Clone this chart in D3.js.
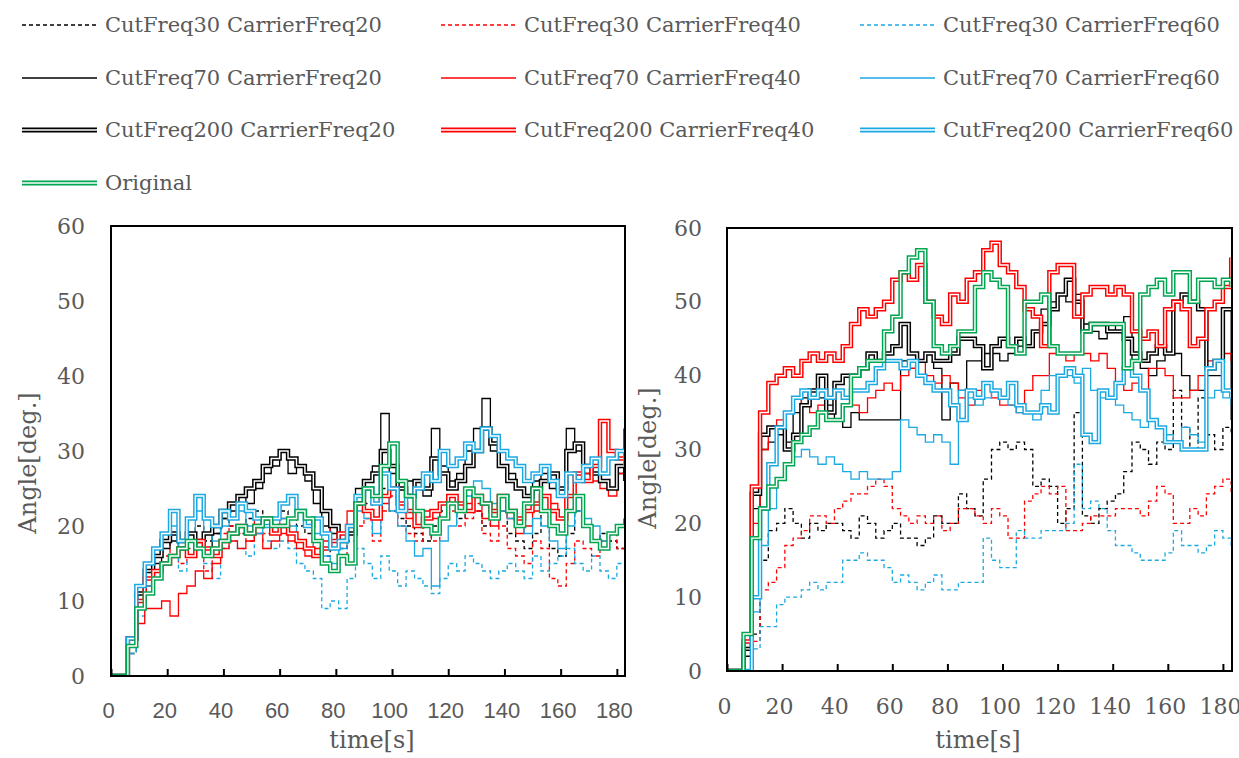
<!DOCTYPE html>
<html><head><meta charset="utf-8">
<script src="https://cdn.jsdelivr.net/npm/d3@7"></script>
<style>body{margin:0;background:#fff}svg{display:block}</style>
</head><body><svg id="c" width="1239" height="758"></svg>
<script>
const times = [0,3,6,9,12,15,18,21,24,27,30,33,36,39,42,45,48,51,54,57,60,63,66,69,72,75,78,81,84,87,90,93,96,99,102,105,108,111,114,117,120,123,126,129,132,135,138,141,144,147,150,153,156,159,162,165,168,171,174,177,180,183];
const seriesNames = ["CutFreq30 CarrierFreq20","CutFreq30 CarrierFreq40","CutFreq30 CarrierFreq60","CutFreq70 CarrierFreq20","CutFreq70 CarrierFreq40","CutFreq70 CarrierFreq60","CutFreq200 CarrierFreq20","CutFreq200 CarrierFreq40","CutFreq200 CarrierFreq60","Original"];
const seriesColors = ["#000000","#ff0000","#1ba9e1","#000000","#ff0000","#1ba9e1","#000000","#ff0000","#1ba9e1","#00a550"];
const seriesStyles = ["dash","dash","dash","thin","thin","thin","double","double","double","double"];
const yTicks = [0,10,20,30,40,50,60];
const xTicks = [0,20,40,60,80,100,120,140,160,180];

// Left panel
const left_k30 = [0,0,3,10,14,16,18,19,17,19, 20,18,19,21,20,19,21,22,20,21, 22,21,20,19,18,16,18,17,19,24, 23,21,25,22,21,20,19,18,20,22, 23,21,24,22,20,21,22,19,18,17, 19,22,17,16,19,22,20,18,19,18, 17,16];
const left_r30 = [0,0,4,9,12,14,16,22,15,17, 18,14,16,19,20,19,18,21,19,20, 21,19,18,17,18,17,18,16,18,20, 21,18,22,24,20,19,18,20,18,21, 22,20,21,23,19,18,20,17,16,15, 18,17,13,12,15,18,17,16,18,19, 17,16];
const left_b30 = [0,0,3,8,12,14,15,16,14,16, 18,15,13,17,18,17,16,19,18,17, 18,17,15,14,13,9,10,9,13,17, 15,13,16,14,12,14,13,12,11,13, 15,14,16,15,14,13,14,15,14,13, 16,14,15,16,17,15,14,16,14,13, 15,13];
const left_k70 = [0,0,5,12,14,15,17,18,17,19, 18,17,19,21,22,24,23,25,27,28, 30,27,28,26,23,20,19,18,20,25, 26,28,35,27,25,26,25,24,33,28, 26,27,30,33,37,30,28,27,25,24, 26,27,25,24,33,30,27,28,26,25, 27,25];
const left_r70 = [0,0,4,7,9,9,10,8,11,12, 14,13,15,17,18,17,18,19,17,18, 19,18,17,16,17,18,20,19,22,24, 22,21,23,25,22,21,20,22,21,23, 24,22,23,22,21,20,22,21,19,20, 22,24,23,21,24,26,27,26,25,24, 27,25];
const left_b70 = [0,0,5,12,15,17,18,20,17,19, 22,19,18,20,21,22,20,19,21,20, 21,20,18,17,19,16,15,17,19,22, 21,19,24,22,20,18,16,17,12,18, 20,22,24,26,25,23,22,21,20,19, 21,20,18,17,20,22,21,20,18,19, 20,19];
const left_k200 = [0,0,5,11,14,16,18,19,18,19, 18,19,20,22,23,24,25,26,28,29, 30,29,28,27,25,22,20,18,19,23, 26,27,30,28,25,24,26,25,29,27, 25,26,28,30,33,31,28,26,25,24, 25,26,27,25,30,31,28,27,26,25, 28,26];
const left_r200 = [0,0,5,10,13,14,15,16,17,16, 18,17,16,18,19,20,19,20,21,19, 20,19,18,17,16,17,18,19,20,23, 22,21,24,25,23,22,20,21,22,23, 24,23,22,24,23,22,24,22,21,22, 23,24,22,21,24,27,26,28,34,30, 29,33];
const left_b200 = [0,0,5,12,15,17,19,22,18,21, 24,21,20,22,21,23,22,21,20,21, 23,24,22,20,21,19,17,18,20,24, 25,23,27,25,22,24,25,27,26,30, 28,29,31,30,33,32,30,29,28,26, 27,28,26,24,27,26,28,29,27,29, 30,28];
const left_g = [0,0,4,9,11,13,15,16,17,18, 17,16,17,18,19,20,19,20,21,20, 20,21,22,21,18,15,14,16,15,23, 25,24,28,31,26,24,22,20,19,21, 23,22,25,24,23,21,24,22,20,23, 25,22,20,19,22,24,20,18,17,19, 20,21];

// Right panel
const right_k30 = [0,0,0,5,15,19,20,22,20,18, 20,19,20,20,19,18,21,20,18,19, 20,18,18,17,18,21,20,20,24,22, 21,26,30,31,30,31,30,25,26,25, 20,22,35,21,20,22,23,24,27,31, 30,28,31,30,38,33,30,37,32,30, 33,32];
const right_r30 = [0,0,0,4,11,12,14,17,18,19, 21,21,20,22,23,24,24,25,26,25, 22,21,20,21,20,21,19,20,22,22, 21,20,22,21,18,18,23,24,25,24, 25,19,19,20,21,21,21,22,22,22, 21,23,25,24,20,20,22,21,24,25, 26,24];
const right_b30 = [0,0,0,3,6,6,9,10,10,11, 12,11,12,12,15,15,16,15,15,14, 12,13,12,11,12,13,11,11,12,12, 12,18,15,14,14,19,18,18,19,19, 19,20,28,22,23,22,19,17,17,16, 15,15,15,16,19,17,17,16,17,19, 18,17];
const right_k70 = [0,0,2,22,30,31,32,31,35,37, 38,37,36,34,33,35,34,34,34,34, 34,42,41,42,43,41,34,39,38,42, 42,43,43,42,43,44,44,46,49,50, 51,50,51,47,46,45,47,46,48,42, 41,40,42,43,43,40,38,38,40,40, 49,34];
const right_r70 = [0,0,3,20,30,33,34,35,37,36, 35,36,37,38,37,36,35,37,38,39, 38,40,41,42,40,39,40,39,37,36, 38,39,37,36,36,35,38,40,40,43, 43,42,43,43,42,43,41,39,38,39, 38,41,41,40,37,37,38,40,42,42, 43,42];
const right_b70 = [0,0,0,8,17,22,26,28,29,30, 29,28,29,28,27,26,27,26,26,26, 27,34,33,32,31,32,31,28,38,37, 36,37,38,37,36,35,35,34,38,40, 40,40,39,41,38,37,37,36,35,34, 33,34,33,32,31,33,32,31,37,38, 37,36];
const right_k200 = [0,0,3,24,32,33,33,30,32,36, 38,40,35,39,40,40,41,43,42,43, 44,47,43,42,43,42,42,43,45,45, 44,41,44,45,44,45,44,46,47,49, 51,53,50,46,47,47,46,46,45,43, 42,43,44,43,50,51,50,49,41,42, 49,49];
const right_r200 = [0,0,4,25,35,39,40,41,40,42, 43,42,43,42,44,47,49,48,49,50, 53,54,53,55,50,48,47,51,50,53, 54,57,58,55,54,52,49,48,44,54, 55,55,48,51,52,52,51,52,51,46, 45,46,44,49,50,49,44,45,49,50, 52,56];
const right_b200 = [0,0,0,10,22,28,33,35,37,38, 37,38,37,38,37,38,38,39,41,42, 42,41,42,40,39,38,38,36,34,38, 37,39,38,37,39,36,35,35,36,35, 40,41,40,32,31,38,37,39,41,40, 38,34,33,31,31,30,30,30,41,42, 38,37];
const right_g = [0,0,5,18,22,25,26,28,31,32, 33,35,34,34,36,40,41,42,42,46, 48,54,56,57,50,44,43,44,46,46, 52,54,53,52,44,43,50,50,51,44, 43,43,43,46,47,47,47,47,41,42, 51,52,53,51,54,54,50,53,53,52, 53,52];

const leftSeries = [left_k30,left_r30,left_b30,left_k70,left_r70,left_b70,left_k200,left_r200,left_b200,left_g];
const rightSeries = [right_k30,right_r30,right_b30,right_k70,right_r70,right_b70,right_k200,right_r200,right_b200,right_g];

const svg = d3.select("#c");
const textColor = "#595959";
const serif = "'DejaVu Serif', serif";

function drawPath(g, d, i, w) {
  const st = seriesStyles[i], col = seriesColors[i];
  if (st === "double") {
    g.append("path").attr("d", d).attr("fill","none").attr("stroke",col).attr("stroke-width",w*3.4).attr("stroke-linejoin","miter");
    g.append("path").attr("d", d).attr("fill","none").attr("stroke","#fff").attr("stroke-width",w*1.1);
  } else {
    const p = g.append("path").attr("d", d).attr("fill","none").attr("stroke",col).attr("stroke-width",w);
    if (st === "dash") p.attr("stroke-dasharray","4,3");
  }
}

function panel(cfg, data, idx) {
  const x = d3.scaleLinear().domain([0, cfg.xmax]).range([cfg.x0, cfg.x1]);
  const y = d3.scaleLinear().domain([0, 60]).range([cfg.yb, cfg.yt]);
  const g = svg.append("g");
  const cid = "clip" + idx;
  svg.append("clipPath").attr("id", cid).append("rect")
    .attr("x", cfg.x0).attr("y", cfg.yt).attr("width", cfg.x1 - cfg.x0).attr("height", cfg.yb - cfg.yt);
  const lg = g.append("g").attr("clip-path", "url(#" + cid + ")");
  const line = d3.line().x(d => x(d[0])).y(d => y(d[1])).curve(d3.curveStepAfter);
  data.forEach((vals, i) => {
    const pts = vals.map((v, k) => [times[k], v]).filter(p => p[0] !== undefined);
    drawPath(lg, line(pts), i, 1.3);
  });
  g.append("rect").attr("x", cfg.x0).attr("y", cfg.yt).attr("width", cfg.x1 - cfg.x0).attr("height", cfg.yb - cfg.yt)
    .attr("fill", "none").attr("stroke", "#000").attr("stroke-width", 2);
  const xa = d3.axisBottom(x).tickValues(xTicks).tickSizeInner(-7).tickSizeOuter(0).tickFormat(d3.format("d"));
  const ax = g.append("g").attr("transform", `translate(0,${cfg.yb})`).call(xa);
  ax.select(".domain").remove();
  ax.selectAll(".tick line").attr("stroke", "#000").attr("stroke-width", 2);
  ax.selectAll(".tick text").attr("fill", textColor).attr("font-family", cfg.xfont).attr("font-size", cfg.xfs)
    .attr("dy", null).attr("y", cfg.xly).attr("dx", -3);
  const ya = d3.axisLeft(y).tickValues(yTicks).tickSize(0).tickPadding(0).tickFormat(d3.format("d"));
  const ay = g.append("g").attr("transform", `translate(${cfg.ylx},0)`).call(ya);
  ay.select(".domain").remove();
  ay.selectAll(".tick text").attr("fill", textColor).attr("font-family", serif).attr("font-size", 22).attr("x", 0);
  g.append("text").attr("x", cfg.tx).attr("y", 748).attr("text-anchor", "middle").attr("fill", textColor)
    .attr("font-family", serif).attr("font-size", 24).text("time[s]");
  g.append("text").attr("transform", `translate(${cfg.ax},${cfg.ay}) rotate(-90)`).attr("text-anchor", "middle")
    .attr("dominant-baseline", "central").attr("fill", textColor).attr("font-family", serif).attr("font-size", 24).text("Angle[deg.]");
}

panel({x0:111, x1:625, yt:226, yb:676, xmax:182.9, xfont:"'Liberation Sans', sans-serif", xfs:22, xly:42, ylx:85, tx:372, ax:28, ay:463}, leftSeries, 0);
panel({x0:727, x1:1232, yt:228, yb:671, xmax:183.3, xfont:serif, xfs:22, xly:43, ylx:702, tx:978, ax:648, ay:458}, rightSeries, 1);

const colLineX = [22, 441, 860], colTextX = [105, 524, 943], rowY = [25, 78, 130, 183];
const leg = svg.append("g");
seriesNames.forEach((name, i) => {
  const r = Math.floor(i / 3), c = i % 3;
  const yy = rowY[r];
  drawPath(leg, d3.line()([[colLineX[c], yy], [colLineX[c] + 75, yy]]), i, 1.4);
  leg.append("text").attr("x", colTextX[c]).attr("y", yy).attr("dominant-baseline", "central")
    .attr("fill", textColor).attr("font-family", serif).attr("font-size", 21).text(name);
});
</script></body></html>
